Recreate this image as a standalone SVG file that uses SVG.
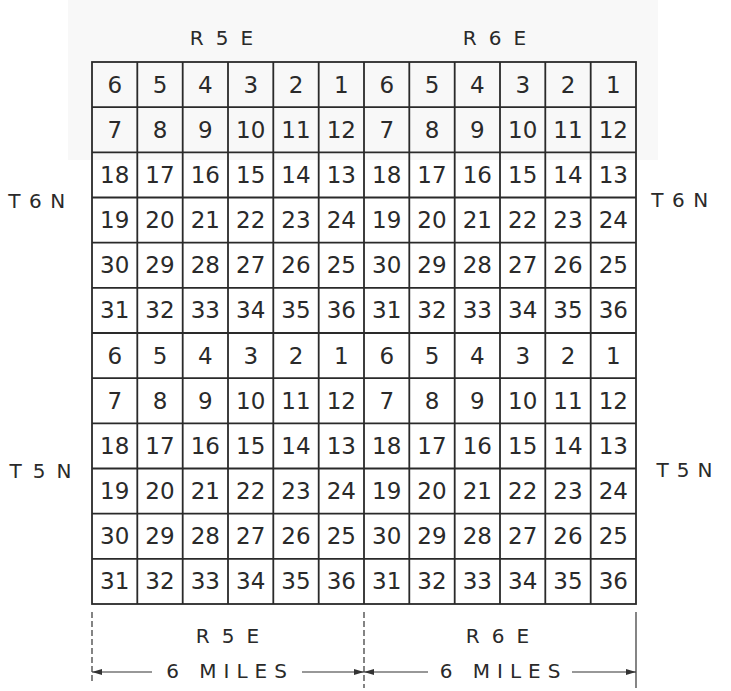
<svg xmlns="http://www.w3.org/2000/svg" width="731" height="691" viewBox="0 0 731 691">
<style>
.g{stroke:#2a2a2a;stroke-width:1.8;fill:none}
.n{font-family:"DejaVu Sans",sans-serif;font-size:23px;fill:#2a2a2a;text-anchor:middle}
.l{font-family:"DejaVu Sans",sans-serif;font-size:20px;fill:#2a2a2a;text-anchor:middle}
.d{stroke:#333;stroke-width:1.2;fill:none}
</style>
<defs>
<marker id="ah" viewBox="0 0 10 6" refX="10" refY="3" markerWidth="10" markerHeight="6" markerUnits="userSpaceOnUse" orient="auto">
<path d="M0,0 L10,3 L0,6 Z" fill="#333"/>
</marker>
</defs>
<rect x="0" y="0" width="731" height="691" fill="#fff"/>
<rect x="68" y="0" width="590" height="160" fill="#f8f8f8"/>

<g id="grid">
<rect class="g" x="92" y="62" width="544" height="542"/>
<path class="g" d="M137.3,62V604M182.7,62V604M228,62V604M273.3,62V604M318.7,62V604M364,62V604M409.3,62V604M454.7,62V604M500,62V604M545.3,62V604M590.7,62V604"/>
<path class="g" d="M92,107.2H636M92,152.3H636M92,197.5H636M92,242.7H636M92,287.8H636M92,333H636M92,378.2H636M92,423.3H636M92,468.5H636M92,513.7H636M92,558.8H636"/>
</g>

<g id="T6N-R5E">
<text class="n" x="114.7" y="92.5">6</text><text class="n" x="160" y="92.5">5</text><text class="n" x="205.3" y="92.5">4</text><text class="n" x="250.7" y="92.5">3</text><text class="n" x="296" y="92.5">2</text><text class="n" x="341.3" y="92.5">1</text>
<text class="n" x="114.7" y="137.7">7</text><text class="n" x="160" y="137.7">8</text><text class="n" x="205.3" y="137.7">9</text><text class="n" x="250.7" y="137.7">10</text><text class="n" x="296" y="137.7">11</text><text class="n" x="341.3" y="137.7">12</text>
<text class="n" x="114.7" y="182.8">18</text><text class="n" x="160" y="182.8">17</text><text class="n" x="205.3" y="182.8">16</text><text class="n" x="250.7" y="182.8">15</text><text class="n" x="296" y="182.8">14</text><text class="n" x="341.3" y="182.8">13</text>
<text class="n" x="114.7" y="228">19</text><text class="n" x="160" y="228">20</text><text class="n" x="205.3" y="228">21</text><text class="n" x="250.7" y="228">22</text><text class="n" x="296" y="228">23</text><text class="n" x="341.3" y="228">24</text>
<text class="n" x="114.7" y="273.2">30</text><text class="n" x="160" y="273.2">29</text><text class="n" x="205.3" y="273.2">28</text><text class="n" x="250.7" y="273.2">27</text><text class="n" x="296" y="273.2">26</text><text class="n" x="341.3" y="273.2">25</text>
<text class="n" x="114.7" y="318.3">31</text><text class="n" x="160" y="318.3">32</text><text class="n" x="205.3" y="318.3">33</text><text class="n" x="250.7" y="318.3">34</text><text class="n" x="296" y="318.3">35</text><text class="n" x="341.3" y="318.3">36</text>
</g>

<g id="T6N-R6E">
<text class="n" x="386.7" y="92.5">6</text><text class="n" x="432" y="92.5">5</text><text class="n" x="477.3" y="92.5">4</text><text class="n" x="522.7" y="92.5">3</text><text class="n" x="568" y="92.5">2</text><text class="n" x="613.3" y="92.5">1</text>
<text class="n" x="386.7" y="137.7">7</text><text class="n" x="432" y="137.7">8</text><text class="n" x="477.3" y="137.7">9</text><text class="n" x="522.7" y="137.7">10</text><text class="n" x="568" y="137.7">11</text><text class="n" x="613.3" y="137.7">12</text>
<text class="n" x="386.7" y="182.8">18</text><text class="n" x="432" y="182.8">17</text><text class="n" x="477.3" y="182.8">16</text><text class="n" x="522.7" y="182.8">15</text><text class="n" x="568" y="182.8">14</text><text class="n" x="613.3" y="182.8">13</text>
<text class="n" x="386.7" y="228">19</text><text class="n" x="432" y="228">20</text><text class="n" x="477.3" y="228">21</text><text class="n" x="522.7" y="228">22</text><text class="n" x="568" y="228">23</text><text class="n" x="613.3" y="228">24</text>
<text class="n" x="386.7" y="273.2">30</text><text class="n" x="432" y="273.2">29</text><text class="n" x="477.3" y="273.2">28</text><text class="n" x="522.7" y="273.2">27</text><text class="n" x="568" y="273.2">26</text><text class="n" x="613.3" y="273.2">25</text>
<text class="n" x="386.7" y="318.3">31</text><text class="n" x="432" y="318.3">32</text><text class="n" x="477.3" y="318.3">33</text><text class="n" x="522.7" y="318.3">34</text><text class="n" x="568" y="318.3">35</text><text class="n" x="613.3" y="318.3">36</text>
</g>

<g id="T5N-R5E">
<text class="n" x="114.7" y="363.5">6</text><text class="n" x="160" y="363.5">5</text><text class="n" x="205.3" y="363.5">4</text><text class="n" x="250.7" y="363.5">3</text><text class="n" x="296" y="363.5">2</text><text class="n" x="341.3" y="363.5">1</text>
<text class="n" x="114.7" y="408.7">7</text><text class="n" x="160" y="408.7">8</text><text class="n" x="205.3" y="408.7">9</text><text class="n" x="250.7" y="408.7">10</text><text class="n" x="296" y="408.7">11</text><text class="n" x="341.3" y="408.7">12</text>
<text class="n" x="114.7" y="453.8">18</text><text class="n" x="160" y="453.8">17</text><text class="n" x="205.3" y="453.8">16</text><text class="n" x="250.7" y="453.8">15</text><text class="n" x="296" y="453.8">14</text><text class="n" x="341.3" y="453.8">13</text>
<text class="n" x="114.7" y="499">19</text><text class="n" x="160" y="499">20</text><text class="n" x="205.3" y="499">21</text><text class="n" x="250.7" y="499">22</text><text class="n" x="296" y="499">23</text><text class="n" x="341.3" y="499">24</text>
<text class="n" x="114.7" y="544.2">30</text><text class="n" x="160" y="544.2">29</text><text class="n" x="205.3" y="544.2">28</text><text class="n" x="250.7" y="544.2">27</text><text class="n" x="296" y="544.2">26</text><text class="n" x="341.3" y="544.2">25</text>
<text class="n" x="114.7" y="589.3">31</text><text class="n" x="160" y="589.3">32</text><text class="n" x="205.3" y="589.3">33</text><text class="n" x="250.7" y="589.3">34</text><text class="n" x="296" y="589.3">35</text><text class="n" x="341.3" y="589.3">36</text>
</g>

<g id="T5N-R6E">
<text class="n" x="386.7" y="363.5">6</text><text class="n" x="432" y="363.5">5</text><text class="n" x="477.3" y="363.5">4</text><text class="n" x="522.7" y="363.5">3</text><text class="n" x="568" y="363.5">2</text><text class="n" x="613.3" y="363.5">1</text>
<text class="n" x="386.7" y="408.7">7</text><text class="n" x="432" y="408.7">8</text><text class="n" x="477.3" y="408.7">9</text><text class="n" x="522.7" y="408.7">10</text><text class="n" x="568" y="408.7">11</text><text class="n" x="613.3" y="408.7">12</text>
<text class="n" x="386.7" y="453.8">18</text><text class="n" x="432" y="453.8">17</text><text class="n" x="477.3" y="453.8">16</text><text class="n" x="522.7" y="453.8">15</text><text class="n" x="568" y="453.8">14</text><text class="n" x="613.3" y="453.8">13</text>
<text class="n" x="386.7" y="499">19</text><text class="n" x="432" y="499">20</text><text class="n" x="477.3" y="499">21</text><text class="n" x="522.7" y="499">22</text><text class="n" x="568" y="499">23</text><text class="n" x="613.3" y="499">24</text>
<text class="n" x="386.7" y="544.2">30</text><text class="n" x="432" y="544.2">29</text><text class="n" x="477.3" y="544.2">28</text><text class="n" x="522.7" y="544.2">27</text><text class="n" x="568" y="544.2">26</text><text class="n" x="613.3" y="544.2">25</text>
<text class="n" x="386.7" y="589.3">31</text><text class="n" x="432" y="589.3">32</text><text class="n" x="477.3" y="589.3">33</text><text class="n" x="522.7" y="589.3">34</text><text class="n" x="568" y="589.3">35</text><text class="n" x="613.3" y="589.3">36</text>
</g>

<g id="labels">
<text class="l" x="227.5" y="45" font-size="19" letter-spacing="12">R5E</text>
<text class="l" x="500.5" y="45" font-size="19" letter-spacing="12">R6E</text>
<text class="l" x="41" y="208" font-size="21" letter-spacing="8.5">T6N</text>
<text class="l" x="684" y="207" font-size="21" letter-spacing="8.5">T6N</text>
<text class="l" x="46" y="478" font-size="22" letter-spacing="11">T5N</text>
<text class="l" x="688.5" y="477" font-size="22" letter-spacing="8">T5N</text>
<text class="l" x="233.5" y="643" letter-spacing="12">R5E</text>
<text class="l" x="503.5" y="643" letter-spacing="12">R6E</text>
<text class="l" x="230" y="678" font-size="21" letter-spacing="7">6 MILES</text>
<text class="l" x="503.5" y="678" font-size="21" letter-spacing="7">6 MILES</text>
</g>

<g id="connectors">
<path class="d" d="M92,612V683" stroke-dasharray="6,3"/>
<path class="d" d="M364,612V688" stroke-dasharray="6,3"/>
<path class="d" d="M636,612V688" stroke-width="1.6"/>
<path class="d" d="M152,672H92" marker-end="url(#ah)"/>
<path class="d" d="M302,672H364" marker-end="url(#ah)"/>
<path class="d" d="M428,672H364" marker-end="url(#ah)"/>
<path class="d" d="M572,672H636" marker-end="url(#ah)"/>
</g>
</svg>
